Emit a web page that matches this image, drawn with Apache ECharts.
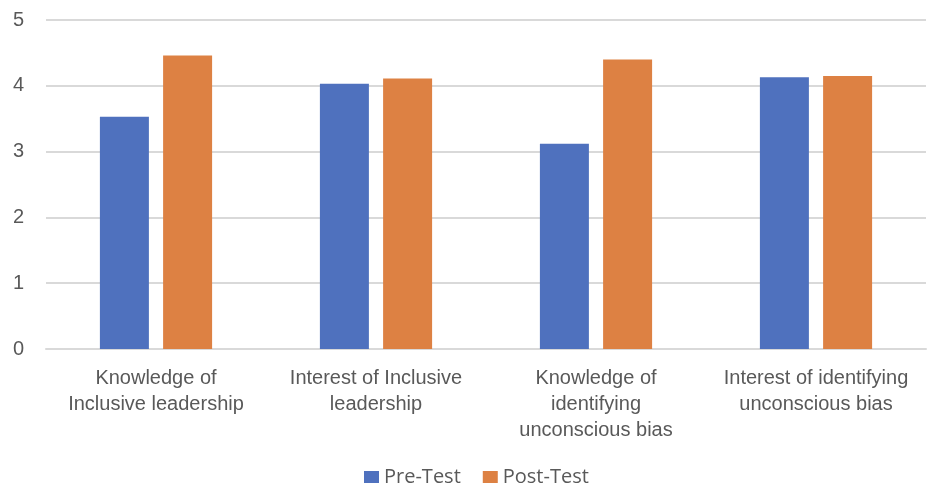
<!DOCTYPE html>
<html><head><meta charset="utf-8">
<script src="https://cdn.jsdelivr.net/npm/echarts@6/dist/echarts.min.js"></script>
<style>html,body{margin:0;padding:0;background:#fff}#c{width:927px;height:487px}</style>
</head><body><div id="c"></div>
<script>
const categories = [
  "Knowledge of\nInclusive leadership",
  "Interest of Inclusive\nleadership",
  "Knowledge of\nidentifying\nunconscious bias",
  "Interest of identifying\nunconscious bias"
];
const preTest = [3.53, 4.03, 3.12, 4.13];
const postTest = [4.46, 4.11, 4.40, 4.15];
const yTicks = [0, 1, 2, 3, 4, 5];

const font = "'Open Sans', 'Liberation Sans', sans-serif";
const chart = echarts.init(document.getElementById('c'));
chart.setOption({
  animation: false,
  grid: { left: 46, right: 1, top: 20, bottom: 138 },
  legend: {
    bottom: -5, left: 359,
    itemWidth: 15, itemHeight: 12, itemGap: 22,
    icon: 'rect',
    textStyle: { fontFamily: font, fontSize: 20, color: '#595959' },
    data: ['Pre-Test', 'Post-Test']
  },
  xAxis: {
    type: 'category', data: categories,
    axisLine: { lineStyle: { color: '#d9d9d9', width: 2 } },
    axisTick: { show: false },
    axisLabel: { interval: 0, hideOverlap: false, fontFamily: "'Liberation Sans', sans-serif", fontSize: 20, color: '#595959', lineHeight: 26, margin: 16 }
  },
  yAxis: {
    type: 'value', min: yTicks[0], max: yTicks[yTicks.length - 1], interval: 1,
    axisLine: { show: false }, axisTick: { show: false },
    splitLine: { lineStyle: { color: '#d9d9d9', width: 2 } },
    axisLabel: { fontFamily: "'Liberation Sans', sans-serif", fontSize: 20, color: '#595959', margin: 22 }
  },
  series: [
    { name: 'Pre-Test', type: 'bar', data: preTest, barWidth: 49, barGap: '29%',
      itemStyle: { color: '#4f71be' } },
    { name: 'Post-Test', type: 'bar', data: postTest, barWidth: 49,
      itemStyle: { color: '#dd8143' } }
  ]
});
</script></body></html>
